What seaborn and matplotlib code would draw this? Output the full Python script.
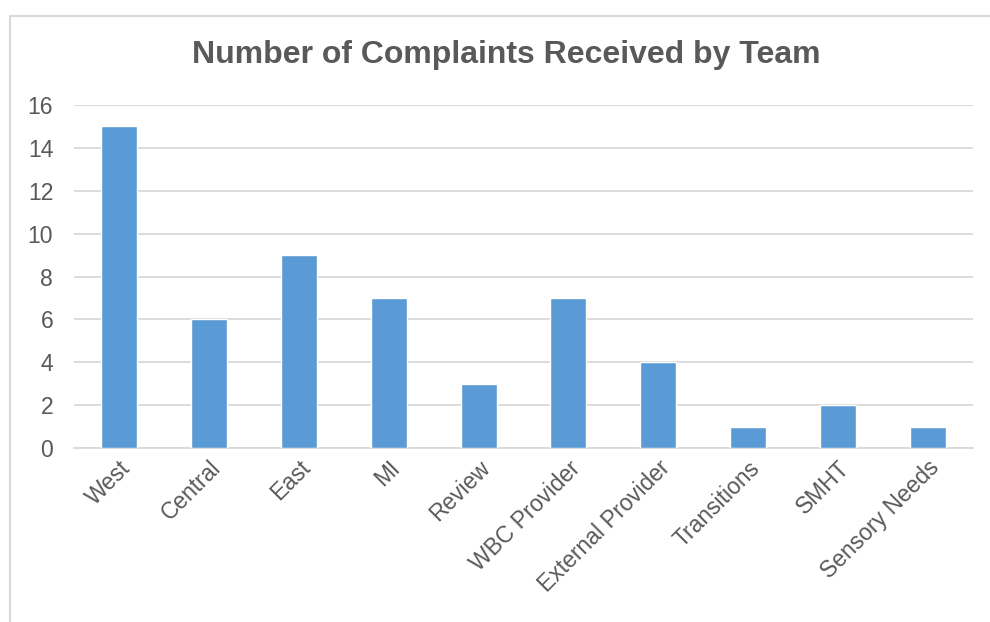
import matplotlib
matplotlib.use("Agg")
import matplotlib.pyplot as plt
import seaborn as sns
import pandas as pd
from matplotlib.patches import Rectangle

teams = ["West", "Central", "East", "MI", "Review", "WBC Provider",
         "External Provider", "Transitions", "SMHT", "Sensory Needs"]
complaints = [15, 6, 9, 7, 3, 7, 4, 1, 2, 1]

df = pd.DataFrame({"team": teams, "complaints": complaints})

sns.set_theme(style="white")
plt.rcParams["font.family"] = ["Liberation Sans", "DejaVu Sans"]

text_col = "#595959"
grid_col = "#D9D9D9"

fig = plt.figure(figsize=(9.9, 6.22), dpi=100)
ax = fig.add_axes([74 / 990, 1 - 448 / 622, (973 - 74) / 990, (448 - 105) / 622])

sns.barplot(data=df, x="team", y="complaints", color="#5B9BD5",
            width=0.4, saturation=1, ax=ax, zorder=3)

ax.set_ylim(0, 16)
ax.set_xlim(-0.5, len(teams) - 0.5)
ax.set_yticks(range(0, 17, 2))
ax.yaxis.grid(True, color=grid_col, linewidth=1.3, zorder=0)
ax.set_axisbelow(True)
for s in ["top", "right", "left"]:
    ax.spines[s].set_visible(False)
ax.spines["bottom"].set_color(grid_col)
ax.spines["bottom"].set_linewidth(1.3)
ax.set_xlabel("")
ax.set_ylabel("")
ax.tick_params(axis="both", length=0, labelsize=16.5, colors=text_col, pad=6)
ax.tick_params(axis="y", pad=15)
plt.setp(ax.get_xticklabels(), rotation=45, ha="right", rotation_mode="anchor")

fig.text(506 / 990, 1 - 55 / 622, "Number of Complaints Received by Team",
         ha="center", va="center", fontsize=23, fontweight="bold", color=text_col)

# chart-area frame, cut off at the right and bottom edges
fig.patches.append(Rectangle((10 / 990, -0.5), 2, 0.5 + (1 - 16 / 622),
                             transform=fig.transFigure, fill=False,
                             edgecolor=grid_col, linewidth=1.5))

fig.savefig("out.png", dpi=100)
